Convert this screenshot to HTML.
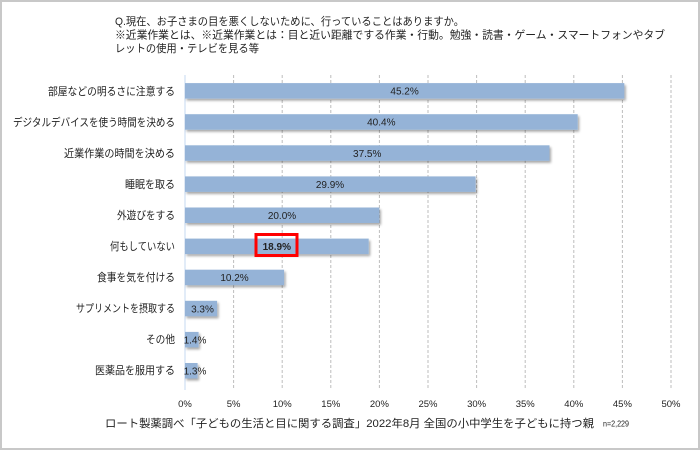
<!DOCTYPE html>
<html>
<head>
<meta charset="utf-8">
<style>
  html,body{margin:0;padding:0;background:#fff;}
  svg{display:block;}
  text{font-family:"Liberation Sans","Noto Sans CJK JP",sans-serif;fill:#222;}
</style>
</head>
<body>
<svg width="700" height="450" viewBox="0 0 700 450" xmlns="http://www.w3.org/2000/svg">
  <defs>
    <filter id="sh" x="-5%" y="-40%" width="115%" height="200%">
      <feGaussianBlur in="SourceAlpha" stdDeviation="1.2"/>
      <feOffset dx="1.5" dy="2" result="b"/>
      <feComponentTransfer><feFuncA type="linear" slope="0.35"/></feComponentTransfer>
      <feMerge><feMergeNode/><feMergeNode in="SourceGraphic"/></feMerge>
    </filter>
  </defs>
  <rect x="0" y="0" width="700" height="450" fill="#fff"/>
  <rect x="1" y="1" width="698" height="448" fill="none" stroke="#c8c8c8" stroke-width="2"/>

  <!-- title -->
  <g font-size="11">
    <text x="115" y="25" textLength="349" lengthAdjust="spacingAndGlyphs">Q.現在、お子さまの目を悪くしないために、行っていることはありますか。</text>
    <text x="115" y="38.5" textLength="550" lengthAdjust="spacingAndGlyphs">※近業作業とは、※近業作業とは：目と近い距離でする作業・行動。勉強・読書・ゲーム・スマートフォンやタブ</text>
    <text x="115" y="52" textLength="144" lengthAdjust="spacingAndGlyphs">レットの使用・テレビを見る等</text>
  </g>

  <!-- gridlines -->
  <g stroke="#bdbdbd" stroke-width="1" stroke-dasharray="3,2">
    <line x1="233.6" y1="75" x2="233.6" y2="390"/>
    <line x1="282.2" y1="75" x2="282.2" y2="390"/>
    <line x1="330.8" y1="75" x2="330.8" y2="390"/>
    <line x1="379.4" y1="75" x2="379.4" y2="390"/>
    <line x1="428" y1="75" x2="428" y2="390"/>
    <line x1="476.6" y1="75" x2="476.6" y2="390"/>
    <line x1="525.2" y1="75" x2="525.2" y2="390"/>
    <line x1="573.8" y1="75" x2="573.8" y2="390"/>
    <line x1="622.4" y1="75" x2="622.4" y2="390"/>
    <line x1="671" y1="75" x2="671" y2="390"/>
  </g>
  <line x1="185" y1="75" x2="185" y2="390" stroke="#c6d9f1" stroke-width="1"/>

  <!-- bars -->
  <g fill="#95b3d7" filter="url(#sh)">
    <rect x="185" y="83.1" width="439.3" height="15.5"/>
    <rect x="185" y="114.2" width="392.7" height="15.5"/>
    <rect x="185" y="145.3" width="364.5" height="15.5"/>
    <rect x="185" y="176.4" width="290.6" height="15.5"/>
    <rect x="185" y="207.5" width="194.4" height="15.5"/>
    <rect x="185" y="238.6" width="183.7" height="15.5"/>
    <rect x="185" y="269.7" width="99.1" height="15.5"/>
    <rect x="185" y="300.8" width="32.1" height="15.5"/>
    <rect x="185" y="331.9" width="13.6" height="15.5"/>
    <rect x="185" y="363.0" width="12.6" height="15.5"/>
  </g>

  <!-- category labels -->
  <g font-size="11" text-anchor="end">
    <text x="175" y="95" textLength="127" lengthAdjust="spacingAndGlyphs">部屋などの明るさに注意する</text>
    <text x="175" y="126" textLength="162" lengthAdjust="spacingAndGlyphs">デジタルデバイスを使う時間を決める</text>
    <text x="175" y="157" textLength="111" lengthAdjust="spacingAndGlyphs">近業作業の時間を決める</text>
    <text x="175" y="188" textLength="50" lengthAdjust="spacingAndGlyphs">睡眠を取る</text>
    <text x="175" y="219" textLength="58" lengthAdjust="spacingAndGlyphs">外遊びをする</text>
    <text x="175" y="250" textLength="65" lengthAdjust="spacingAndGlyphs">何もしていない</text>
    <text x="175" y="281" textLength="78" lengthAdjust="spacingAndGlyphs">食事を気を付ける</text>
    <text x="175" y="312" textLength="99" lengthAdjust="spacingAndGlyphs">サプリメントを摂取する</text>
    <text x="175" y="343" textLength="29" lengthAdjust="spacingAndGlyphs">その他</text>
    <text x="175" y="374" textLength="80" lengthAdjust="spacingAndGlyphs">医薬品を服用する</text>
  </g>

  <!-- value labels -->
  <g font-size="10" text-anchor="middle">
    <text x="404.6" y="94.6">45.2%</text>
    <text x="381.3" y="125.7">40.4%</text>
    <text x="367.2" y="156.8">37.5%</text>
    <text x="330" y="187.9">29.9%</text>
    <text x="282" y="219">20.0%</text>
    <text x="276.8" y="250.1" font-weight="bold">18.9%</text>
    <text x="234.5" y="281.2">10.2%</text>
    <text x="202.5" y="312.3">3.3%</text>
    <text x="195" y="343.4">1.4%</text>
    <text x="195" y="374.5">1.3%</text>
  </g>
  <rect x="256" y="234.5" width="41" height="21" fill="none" stroke="#ff0000" stroke-width="3"/>

  <!-- axis labels -->
  <g font-size="9.5" text-anchor="middle">
    <text x="185" y="407">0%</text>
    <text x="233.6" y="407">5%</text>
    <text x="282.2" y="407">10%</text>
    <text x="330.8" y="407">15%</text>
    <text x="379.4" y="407">20%</text>
    <text x="428" y="407">25%</text>
    <text x="476.6" y="407">30%</text>
    <text x="525.2" y="407">35%</text>
    <text x="573.8" y="407">40%</text>
    <text x="622.4" y="407">45%</text>
    <text x="671" y="407">50%</text>
  </g>

  <!-- footer -->
  <text x="105" y="427" font-size="11" textLength="489" lengthAdjust="spacingAndGlyphs">ロート製薬調べ「子どもの生活と目に関する調査」2022年8月 全国の小中学生を子どもに持つ親</text>
  <text x="603" y="426.5" font-size="8.5" textLength="26" lengthAdjust="spacingAndGlyphs">n=2,229</text>
</svg>
</body>
</html>
